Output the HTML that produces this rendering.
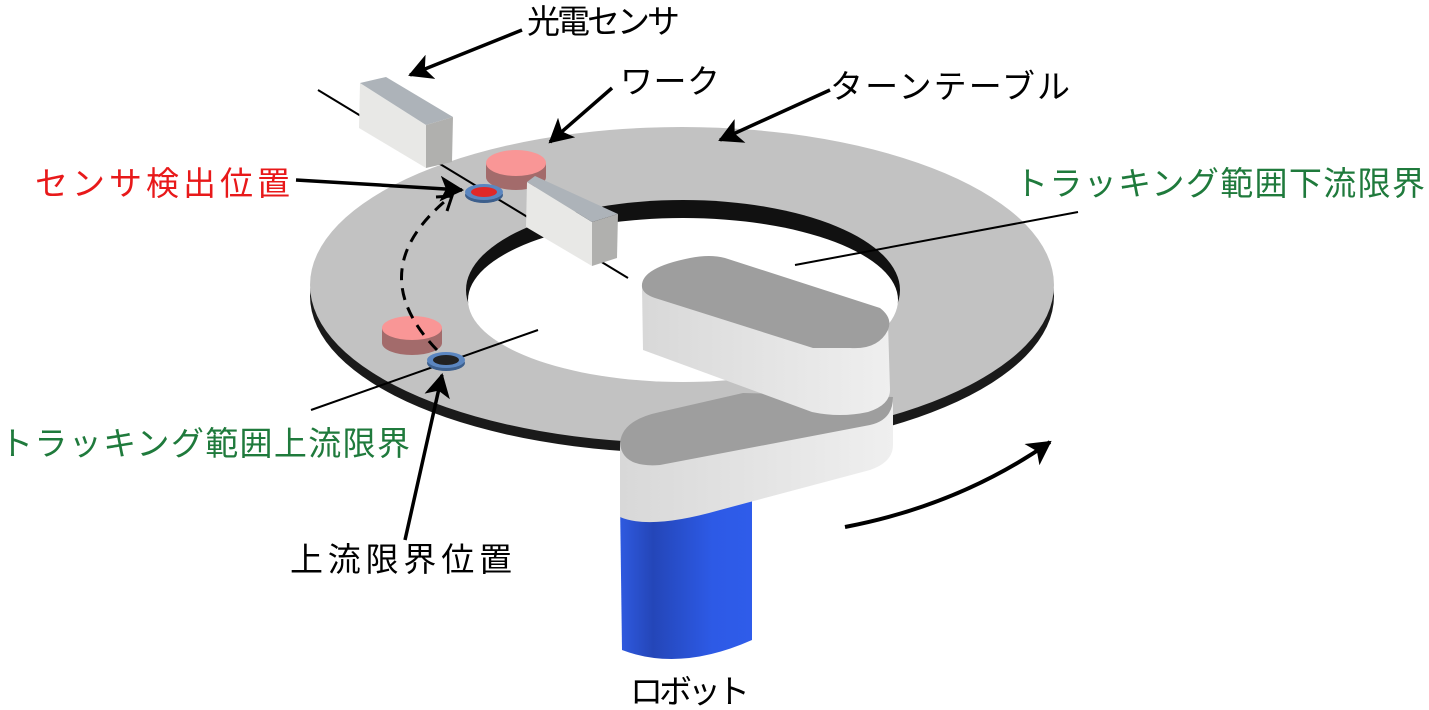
<!DOCTYPE html>
<html><head><meta charset="utf-8"><style>
html,body{margin:0;padding:0;background:#fff;}
svg{display:block;}
text{font-family:"Liberation Sans","Noto Sans CJK JP",sans-serif;}
</style></head><body>
<svg width="1429" height="710" viewBox="0 0 1429 710" xmlns="http://www.w3.org/2000/svg">
<defs>
<marker id="ah2" markerWidth="26" markerHeight="26" refX="22" refY="13" orient="auto" markerUnits="userSpaceOnUse">
<path d="M0,0 L24,13 L0,26 L6,13 Z" fill="#000"/></marker>
<linearGradient id="blue" x1="0" x2="1"><stop offset="0" stop-color="#2f5ae0"/><stop offset="0.25" stop-color="#2446b8"/><stop offset="0.7" stop-color="#2d5ae6"/><stop offset="1" stop-color="#2f5cea"/></linearGradient>
<linearGradient id="side" x1="0" x2="1"><stop offset="0" stop-color="#d8d8d8"/><stop offset="0.6" stop-color="#e6e6e6"/><stop offset="1" stop-color="#efefef"/></linearGradient>
</defs>
<ellipse cx="682" cy="296" rx="372" ry="157" fill="#1a1a1a"/>
<ellipse cx="682" cy="285" rx="372" ry="158" fill="#c2c2c2"/>
<ellipse cx="683" cy="290" rx="217" ry="90" fill="#111"/>
<ellipse cx="683" cy="300" rx="215" ry="82" fill="#fff"/>
<line x1="318" y1="90" x2="628" y2="278" stroke="#000" stroke-width="2"/>
<line x1="311" y1="410" x2="538" y2="330" stroke="#000" stroke-width="2"/>
<line x1="795" y1="265" x2="1078" y2="212" stroke="#000" stroke-width="2"/>
<polygon points="360,83 426,125 426,168 359,128" fill="#e8e8e6"/>
<polygon points="360,83 386,77 453,117 426,125" fill="#adb3b9"/>
<polygon points="426,125 453,117 452,162 426,168" fill="#b0b0ae"/>
<path d="M486,163 L486,177 A30,13 0 0 0 546,177 L546,163 Z" fill="#a36b6b"/>
<ellipse cx="516" cy="163" rx="30" ry="13" fill="#f99696"/>
<ellipse cx="484" cy="195" rx="19" ry="8" fill="#3d5f8c"/>
<ellipse cx="484" cy="192" rx="19" ry="8" fill="#5b86c0"/>
<ellipse cx="484" cy="192" rx="13" ry="5" fill="#e02828"/>
<polygon points="527,182 592,222 592,266 526,227" fill="#e8e8e6"/>
<polygon points="527,182 535,176 618,214 592,222" fill="#adb3b9"/>
<polygon points="592,222 618,214 617,258 592,266" fill="#b0b0ae"/>
<path d="M382,328 L382,343 A30,12 0 0 0 442,343 L442,328 Z" fill="#a36b6b"/>
<ellipse cx="412" cy="328" rx="30" ry="12" fill="#f99696"/>
<ellipse cx="446" cy="363" rx="19" ry="8" fill="#3d5f8c"/>
<ellipse cx="446" cy="360" rx="19" ry="8" fill="#5b86c0"/>
<ellipse cx="446" cy="360" rx="13" ry="5" fill="#222"/>
<path d="M437,350 Q360,270 450,197" fill="none" stroke="#000" stroke-width="3" stroke-dasharray="12,8"/>
<polyline points="436,197 452,196 447,211" fill="none" stroke="#000" stroke-width="3"/>
<path d="M620,500 L622,650 Q680,672 752,640 L752,500 Z" fill="url(#blue)"/>
<path d="M620,443 L620,517 Q650,530 720,510 L870,470 Q893,462 893,445 L893,397 L620,443 Z" fill="url(#side)"/>
<path d="M620,443 Q622,420 660,412 L743,393 L893,397 Q893,420 870,425 L660,465 Q622,468 620,443 Z" fill="#9e9e9e"/>
<path d="M642,287 L643,350 L812,412 Q840,418 868,412 Q890,405 890,390 L888,323 Z" fill="url(#side)"/>
<path d="M642,287 Q640,268 690,258 Q710,254 725,258 L880,308 Q893,318 888,330 Q878,350 850,348 L813,348 L655,298 Q643,294 642,287 Z" fill="#9e9e9e"/>
<path d="M845,527 Q960,505 1050,442" fill="none" stroke="#000" stroke-width="4" marker-end="url(#ah2)"/>
<line x1="522" y1="30" x2="410" y2="75" stroke="#000" stroke-width="3.5" marker-end="url(#ah2)"/>
<line x1="612" y1="88" x2="550" y2="142" stroke="#000" stroke-width="3.5" marker-end="url(#ah2)"/>
<line x1="830" y1="90" x2="720" y2="140" stroke="#000" stroke-width="3.5" marker-end="url(#ah2)"/>
<line x1="296" y1="180" x2="462" y2="190" stroke="#000" stroke-width="3.5" marker-end="url(#ah2)"/>
<line x1="405" y1="540" x2="442" y2="375" stroke="#000" stroke-width="3.5" marker-end="url(#ah2)"/>
<g font-size="33">
<text x="527" y="33" fill="#000" textLength="153">光電センサ</text>
<text x="620" y="93" fill="#000" textLength="100">ワーク</text>
<text x="830" y="98" fill="#000" textLength="240">ターンテーブル</text>
<text x="35" y="195" fill="#e8191a" textLength="255">センサ検出位置</text>
<text x="1015" y="195" fill="#1f7a3c" textLength="410">トラッキング範囲下流限界</text>
<text x="0" y="455" fill="#1f7a3c" textLength="410">トラッキング範囲上流限界</text>
<text x="290" y="571" fill="#000" textLength="222">上流限界位置</text>
<text x="630" y="703" fill="#000" textLength="120">ロボット</text>
</g>
</svg>
</body></html>
